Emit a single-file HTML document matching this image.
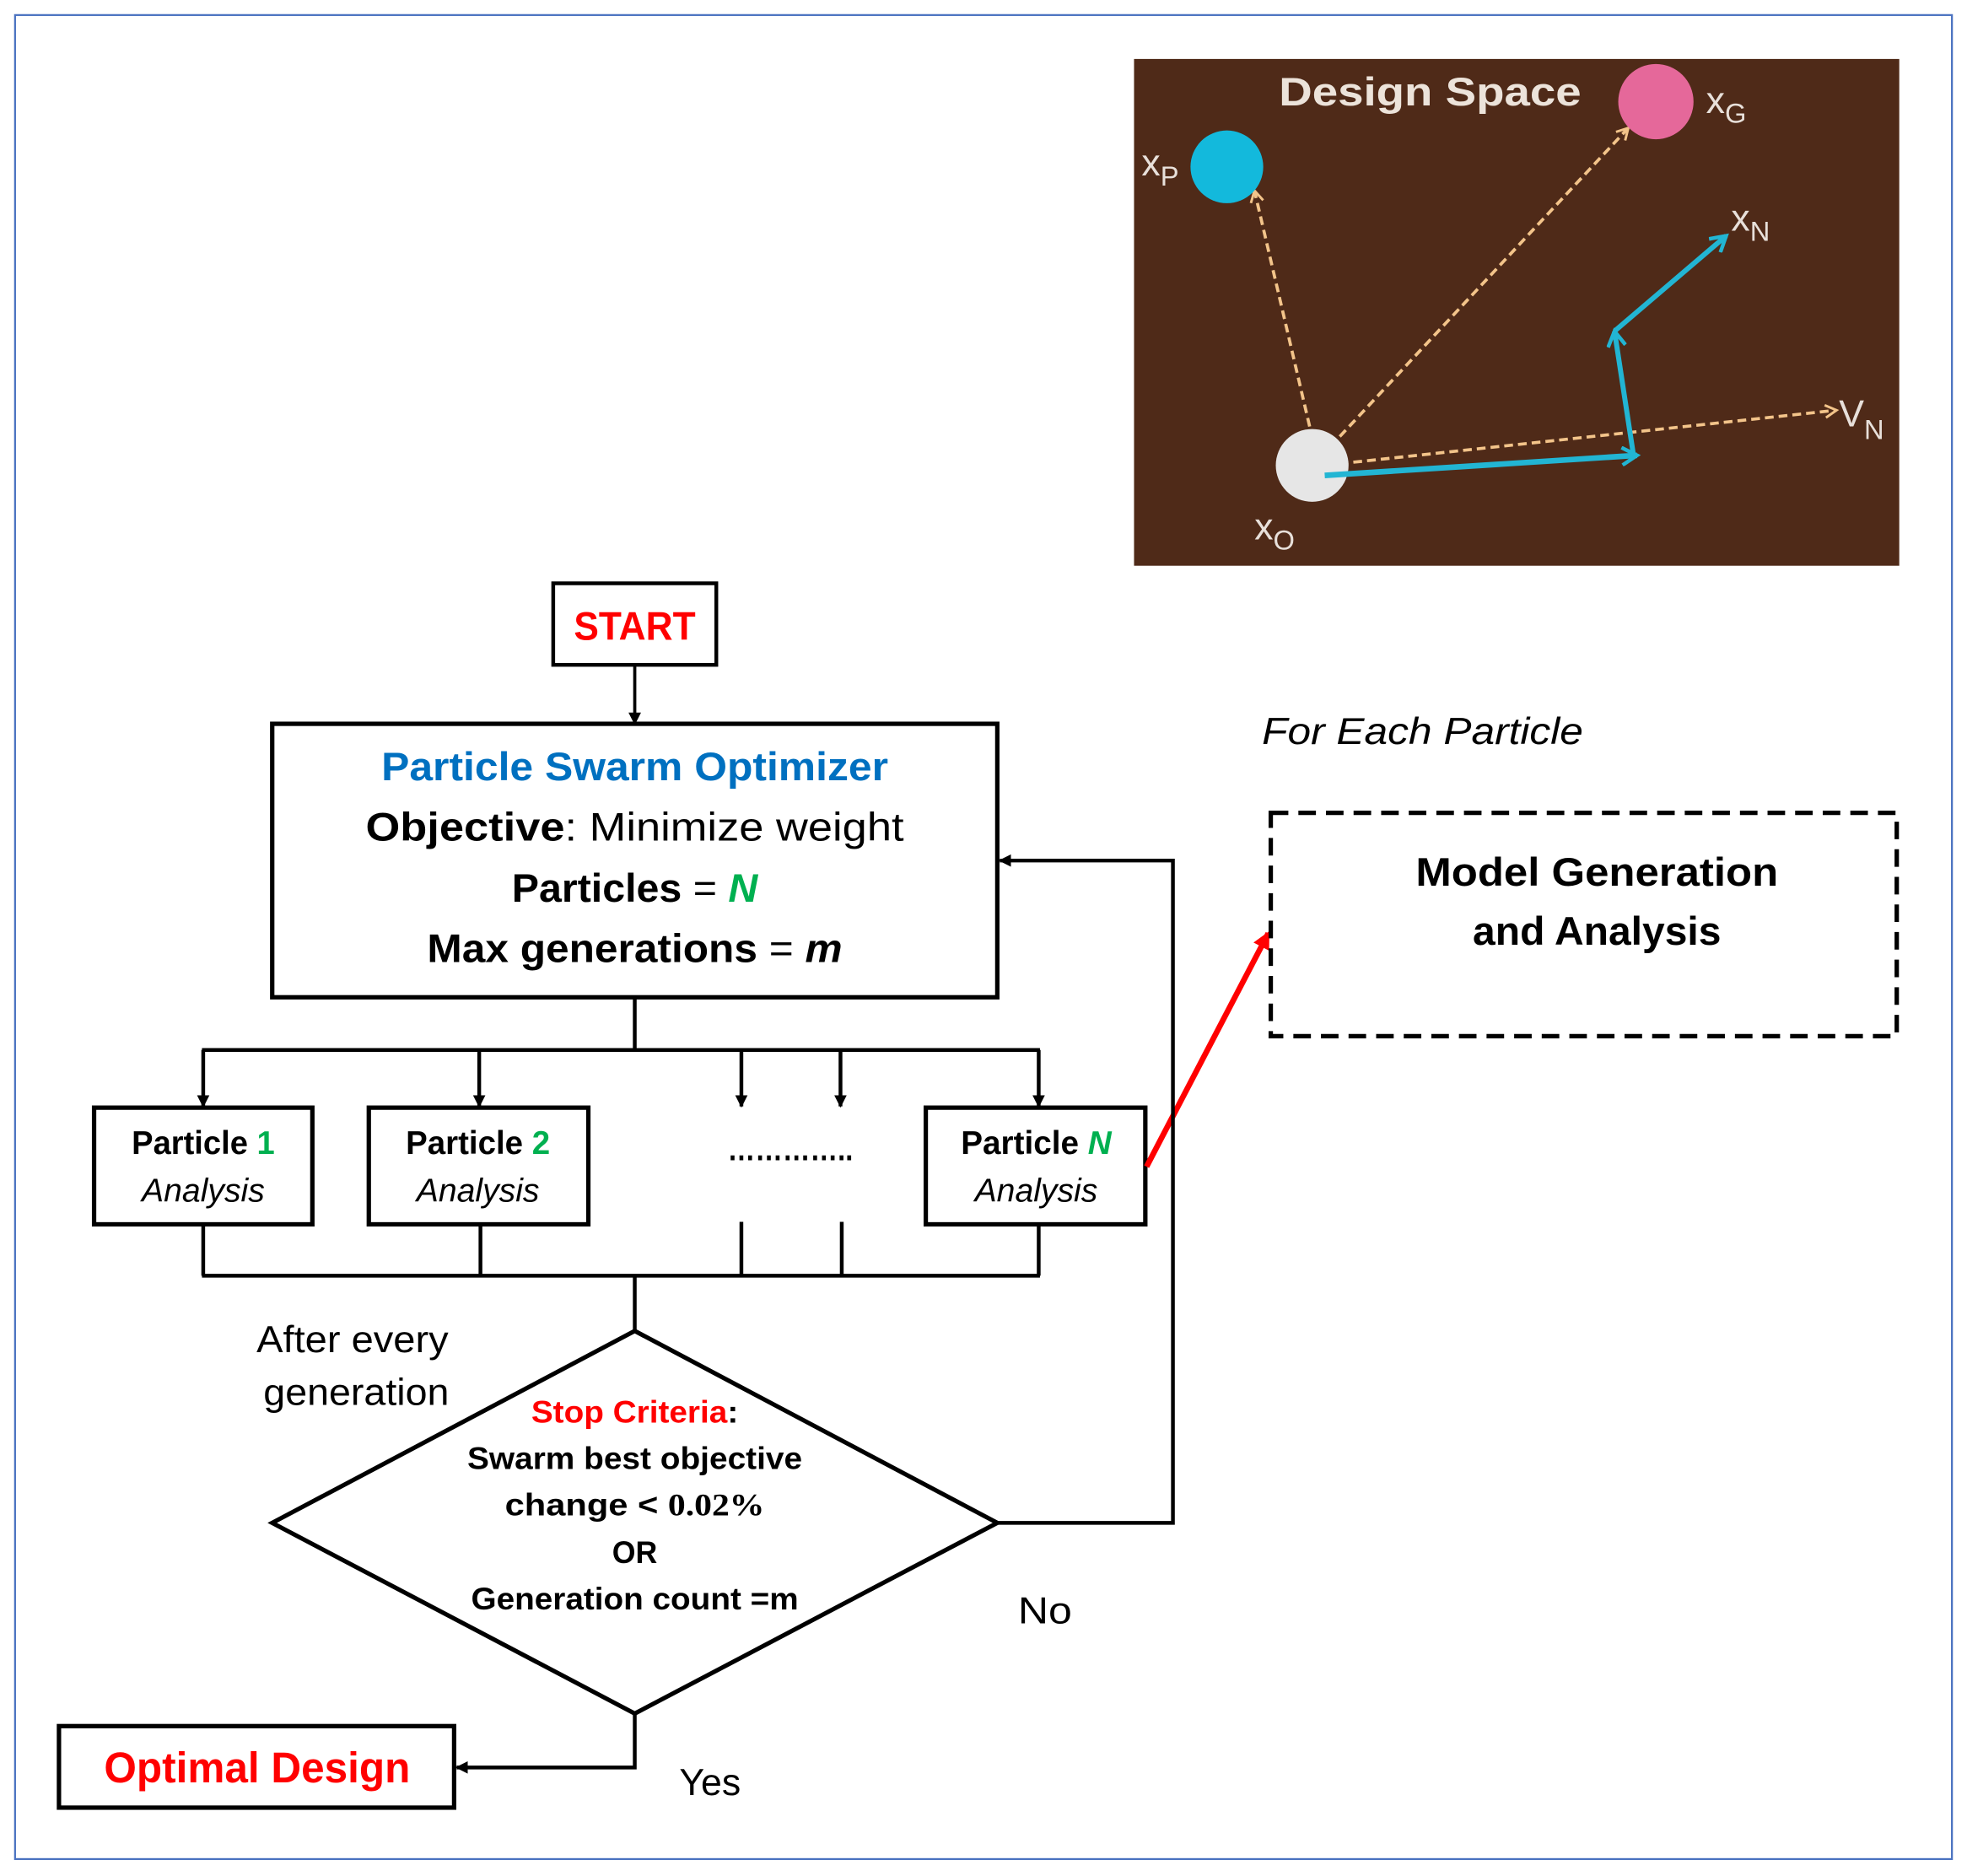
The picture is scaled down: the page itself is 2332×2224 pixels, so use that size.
<!DOCTYPE html>
<html><head><meta charset="utf-8"><style>
html,body{margin:0;padding:0;background:#fff;}
svg{display:block;}
text{font-family:"Liberation Sans",sans-serif;}
</style></head><body>
<svg width="2332" height="2224" viewBox="0 0 1568 1495.5" preserveAspectRatio="none" xmlns="http://www.w3.org/2000/svg">
<defs>
<marker id="ab" markerWidth="10" markerHeight="10" refX="9" refY="5" orient="auto" markerUnits="userSpaceOnUse"><path d="M0,0 L10,5 L0,10 z" fill="#000"/></marker>
<marker id="ar" markerWidth="14" markerHeight="14" refX="12" refY="7" orient="auto" markerUnits="userSpaceOnUse"><path d="M0,0 L14,7 L0,14 z" fill="#f00"/></marker>
<marker id="ao" markerWidth="12" markerHeight="12" refX="10" refY="6" orient="auto" markerUnits="userSpaceOnUse"><path d="M1,1 L10,6 L1,11" fill="none" stroke="#f3c48a" stroke-width="2"/></marker>
<marker id="ac" markerWidth="16" markerHeight="16" refX="13" refY="8" orient="auto" markerUnits="userSpaceOnUse"><path d="M1,1 L13,8 L1,15" fill="none" stroke="#22b5d3" stroke-width="3"/></marker>
</defs>
<rect x="12" y="12" width="1544" height="1470" fill="none" stroke="#4a72c0" stroke-width="1.5"/>

<!-- design space image -->
<rect x="904" y="47" width="610" height="404" fill="#4f2a18"/>
<text x="1140" y="84" font-size="32" font-weight="bold" fill="#ece3da" text-anchor="middle" textLength="241" lengthAdjust="spacingAndGlyphs">Design Space</text>
<line x1="1044" y1="340" x2="1000" y2="152" stroke="#f3c48a" stroke-width="2.5" stroke-dasharray="7,4" marker-end="url(#ao)"/>
<line x1="1068" y1="348" x2="1298" y2="102" stroke="#f3c48a" stroke-width="2.5" stroke-dasharray="7,4" marker-end="url(#ao)"/>
<line x1="1046" y1="372" x2="1464" y2="327" stroke="#f3c48a" stroke-width="2.5" stroke-dasharray="7,4" marker-end="url(#ao)"/>
<circle cx="978" cy="133" r="29" fill="#13b9dc"/>
<circle cx="1320" cy="81" r="30" fill="#e5689a"/>
<circle cx="1046" cy="371" r="29" fill="#e6e6e6"/>
<line x1="1056" y1="379" x2="1305" y2="363" stroke="#22b5d3" stroke-width="4.5" marker-end="url(#ac)"/>
<line x1="1302" y1="362" x2="1287" y2="264" stroke="#22b5d3" stroke-width="4" marker-end="url(#ac)"/>
<line x1="1287" y1="264" x2="1376" y2="188" stroke="#22b5d3" stroke-width="4" marker-end="url(#ac)"/>
<g fill="#e8e0da" font-size="30">
<text x="910" y="140">x<tspan font-size="22" dy="8">P</tspan></text>
<text x="1360" y="90">x<tspan font-size="22" dy="8">G</tspan></text>
<text x="1380" y="184">x<tspan font-size="22" dy="8">N</tspan></text>
<text x="1466" y="340">V<tspan font-size="22" dy="10">N</tspan></text>
<text x="1000" y="430">x<tspan font-size="22" dy="8">O</tspan></text>
</g>

<!-- START -->
<rect x="441" y="465" width="130" height="65" fill="#fff" stroke="#000" stroke-width="3"/>
<text x="506" y="510" font-size="32" font-weight="bold" fill="#f00" text-anchor="middle" textLength="97" lengthAdjust="spacingAndGlyphs">START</text>
<line x1="506" y1="530" x2="506" y2="577" stroke="#000" stroke-width="2.5" marker-end="url(#ab)"/>

<!-- PSO -->
<rect x="217" y="577" width="578" height="218" fill="#fff" stroke="#000" stroke-width="3.5"/>
<text x="506" y="622" font-size="32" font-weight="bold" fill="#0070c0" text-anchor="middle" textLength="404" lengthAdjust="spacingAndGlyphs">Particle Swarm Optimizer</text>
<text x="506" y="670" font-size="32" text-anchor="middle" textLength="429" lengthAdjust="spacingAndGlyphs"><tspan font-weight="bold">Objective</tspan>: Minimize weight</text>
<text x="506" y="719" font-size="32" text-anchor="middle" textLength="196" lengthAdjust="spacingAndGlyphs"><tspan font-weight="bold">Particles</tspan> = <tspan font-weight="bold" font-style="italic" fill="#00b050">N</tspan></text>
<text x="506" y="767" font-size="32" text-anchor="middle" textLength="331" lengthAdjust="spacingAndGlyphs"><tspan font-weight="bold">Max generations</tspan> = <tspan font-weight="bold" font-style="italic">m</tspan></text>

<g stroke="#000" stroke-width="3" fill="none">
<line x1="506" y1="795" x2="506" y2="837"/>
<line x1="161" y1="837" x2="829" y2="837"/>
<line x1="162" y1="837" x2="162" y2="882" marker-end="url(#ab)"/>
<line x1="382" y1="837" x2="382" y2="882" marker-end="url(#ab)"/>
<line x1="591" y1="837" x2="591" y2="882" marker-end="url(#ab)"/>
<line x1="670" y1="837" x2="670" y2="882" marker-end="url(#ab)"/>
<line x1="828" y1="837" x2="828" y2="882" marker-end="url(#ab)"/>
<line x1="162" y1="976" x2="162" y2="1017"/>
<line x1="383" y1="976" x2="383" y2="1017"/>
<line x1="591" y1="974" x2="591" y2="1017"/>
<line x1="671" y1="974" x2="671" y2="1017"/>
<line x1="828" y1="976" x2="828" y2="1017"/>
<line x1="161" y1="1017" x2="829" y2="1017"/>
<line x1="506" y1="1017" x2="506" y2="1061"/>
</g>

<!-- particle boxes -->
<g stroke="#000" stroke-width="3.5" fill="#fff">
<rect x="75" y="883" width="174" height="93"/>
<rect x="294" y="883" width="175" height="93"/>
<rect x="738" y="883" width="175" height="93"/>
</g>
<g font-size="26" text-anchor="middle">
<text x="162" y="920" font-weight="bold" textLength="114" lengthAdjust="spacingAndGlyphs">Particle <tspan fill="#00b050">1</tspan></text>
<text x="162" y="958" font-style="italic" textLength="98" lengthAdjust="spacingAndGlyphs">Analysis</text>
<text x="381" y="920" font-weight="bold" textLength="115" lengthAdjust="spacingAndGlyphs">Particle <tspan fill="#00b050">2</tspan></text>
<text x="381" y="958" font-style="italic" textLength="98" lengthAdjust="spacingAndGlyphs">Analysis</text>
<text x="826" y="920" font-weight="bold" textLength="120" lengthAdjust="spacingAndGlyphs">Particle <tspan fill="#00b050" font-style="italic">N</tspan></text>
<text x="826" y="958" font-style="italic" textLength="98" lengthAdjust="spacingAndGlyphs">Analysis</text>
<text x="630" y="925" font-weight="bold" textLength="100" lengthAdjust="spacingAndGlyphs">…………..</text>
</g>

<!-- red arrow -->
<line x1="914" y1="930" x2="1011" y2="744" stroke="#f00" stroke-width="4.5" marker-end="url(#ar)"/>

<!-- diamond -->
<polygon points="506,1061 795,1214 506,1366 217,1214" fill="#fff" stroke="#000" stroke-width="3.5"/>
<g font-size="25" font-weight="bold" text-anchor="middle">
<text x="506" y="1134" textLength="165" lengthAdjust="spacingAndGlyphs"><tspan fill="#f00">Stop Criteria</tspan>:</text>
<text x="506" y="1171" textLength="267" lengthAdjust="spacingAndGlyphs">Swarm best objective</text>
<text x="506" y="1208" textLength="207" lengthAdjust="spacingAndGlyphs">change &lt; <tspan font-family="Liberation Serif,serif">0.02%</tspan></text>
<text x="506" y="1246" textLength="36" lengthAdjust="spacingAndGlyphs">OR</text>
<text x="506" y="1283" textLength="261" lengthAdjust="spacingAndGlyphs">Generation count =m</text>
</g>
<g font-size="30">
<text x="281" y="1078" text-anchor="middle" textLength="153" lengthAdjust="spacingAndGlyphs">After every</text>
<text x="284" y="1120" text-anchor="middle" textLength="148" lengthAdjust="spacingAndGlyphs">generation</text>
<text x="833" y="1294" text-anchor="middle" textLength="43" lengthAdjust="spacingAndGlyphs">No</text>
<text x="566" y="1431" text-anchor="middle" textLength="49" lengthAdjust="spacingAndGlyphs">Yes</text>
</g>

<!-- loops -->
<g stroke="#000" stroke-width="3" fill="none">
<polyline points="795,1214 935,1214 935,686 797,686" marker-end="url(#ab)"/>
<polyline points="506,1366 506,1409 364,1409" marker-end="url(#ab)"/>
</g>

<!-- Optimal -->
<rect x="47" y="1376" width="315" height="65" fill="#fff" stroke="#000" stroke-width="3.5"/>
<text x="205" y="1421" font-size="34" font-weight="bold" fill="#f00" text-anchor="middle" textLength="244" lengthAdjust="spacingAndGlyphs">Optimal Design</text>

<!-- right side -->
<text x="1134" y="593" font-size="30" font-style="italic" text-anchor="middle" textLength="256" lengthAdjust="spacingAndGlyphs">For Each Particle</text>
<rect x="1013" y="648" width="499" height="178" fill="none" stroke="#000" stroke-width="3.5" stroke-dasharray="14,8"/>
<text x="1273" y="706" font-size="32" font-weight="bold" text-anchor="middle" textLength="289" lengthAdjust="spacingAndGlyphs">Model Generation</text>
<text x="1273" y="753" font-size="32" font-weight="bold" text-anchor="middle" textLength="198" lengthAdjust="spacingAndGlyphs">and Analysis</text>
</svg>
</body></html>
